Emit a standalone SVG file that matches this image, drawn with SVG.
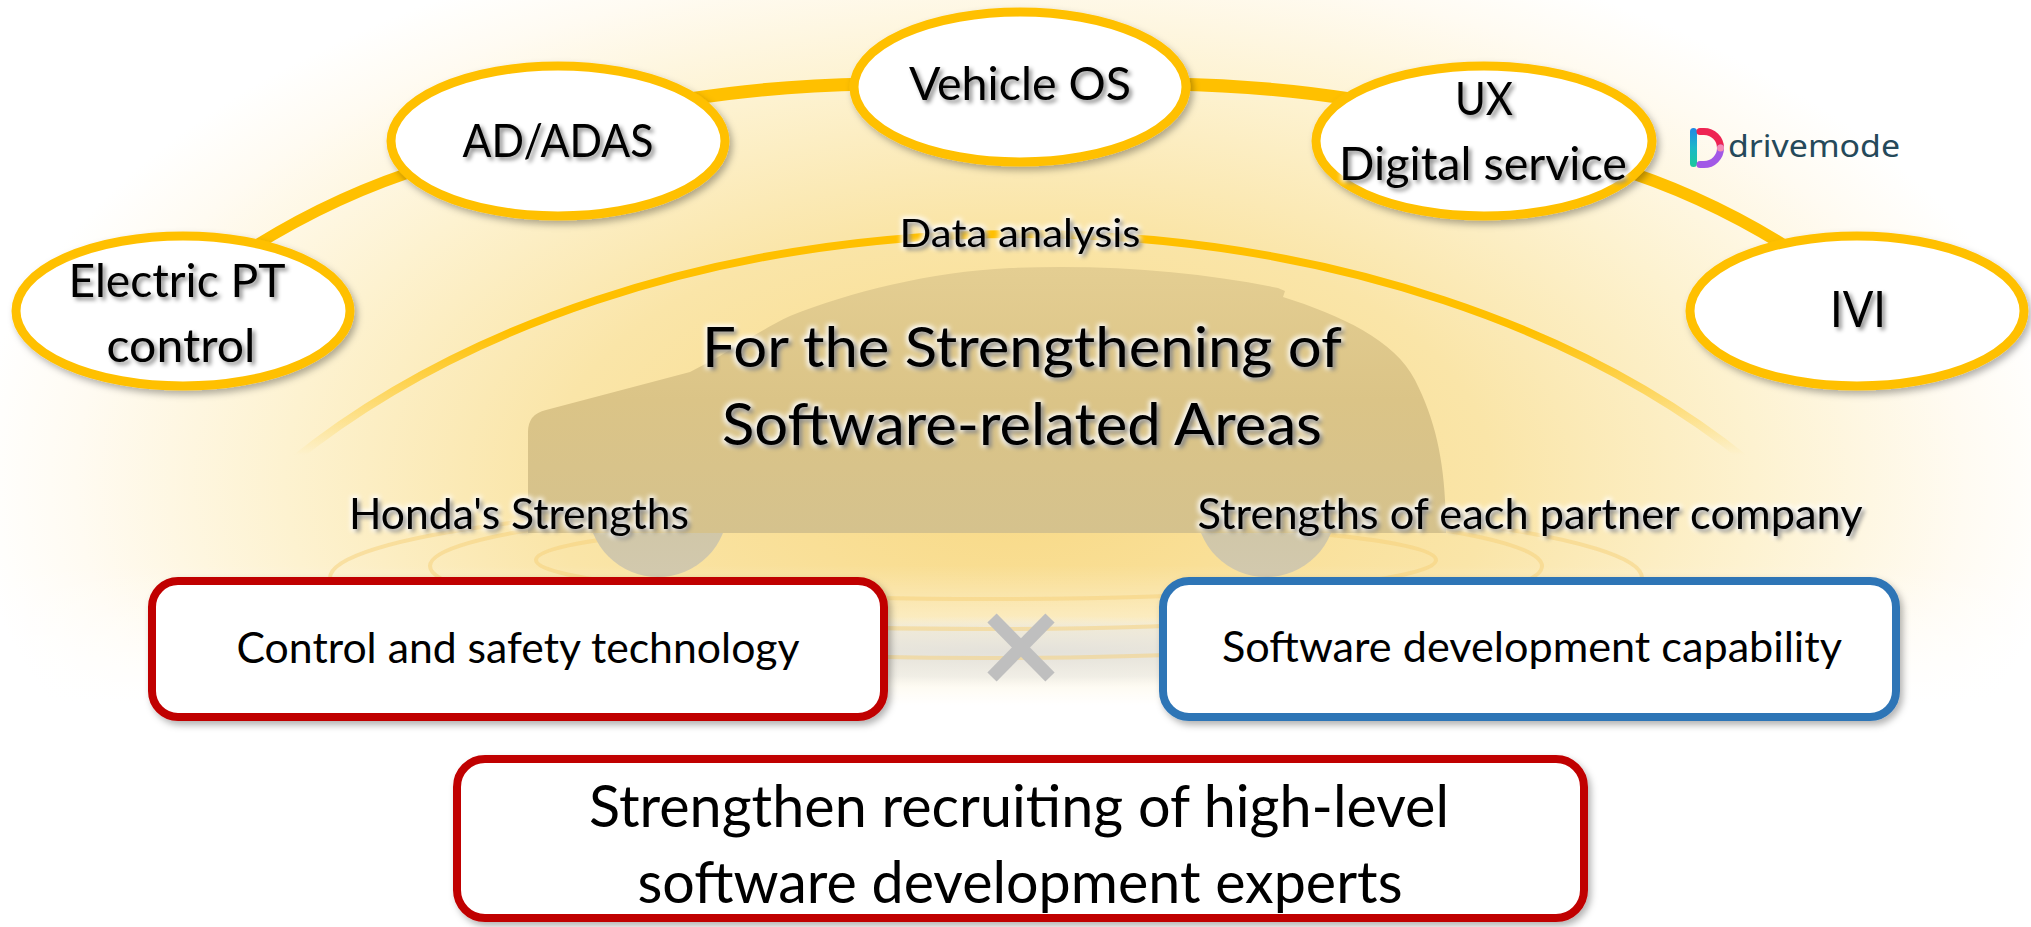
<svg xmlns="http://www.w3.org/2000/svg" width="2031" height="927" viewBox="0 0 2031 927">
  <defs>
    <style>
      .lbl { font-family: Lato, "Liberation Sans", "DejaVu Sans", sans-serif; fill: #000; text-anchor: middle; }
      .node-shape { fill: #fff; stroke: #FFC000; stroke-width: 9; }
      .link { fill: none; stroke: #FFC000; stroke-linecap: butt; }
      .ring { fill: none; stroke: #F6CF78; stroke-width: 4; stroke-opacity: 0.5; }
      .box { fill: #fff; stroke-width: 8; }
      .box-red { stroke: #C00000; }
      .box-blue { stroke: #2E75B6; }
    </style>

    <!-- warm background glow -->
    <radialGradient id="glow" gradientUnits="userSpaceOnUse" cx="1020" cy="480" r="1050"
                    gradientTransform="translate(1020 480) scale(1 0.55) translate(-1020 -480)">
      <stop offset="0" stop-color="#F8D985"/>
      <stop offset="0.45" stop-color="#FAE5A8"/>
      <stop offset="0.7" stop-color="#FDF2D0"/>
      <stop offset="0.9" stop-color="#FFFBF2"/>
      <stop offset="1" stop-color="#FFFFFF"/>
    </radialGradient>
    <linearGradient id="fadeOut" gradientUnits="userSpaceOnUse" x1="0" y1="565" x2="0" y2="705">
      <stop offset="0" stop-color="#fff" stop-opacity="0"/>
      <stop offset="1" stop-color="#fff" stop-opacity="1"/>
    </linearGradient>
    <radialGradient id="floor">
      <stop offset="0" stop-color="#E2E0DA" stop-opacity="0.95"/>
      <stop offset="0.7" stop-color="#E8E7E2" stop-opacity="0.6"/>
      <stop offset="1" stop-color="#F0EFEB" stop-opacity="0"/>
    </radialGradient>
    <linearGradient id="arcFade" gradientUnits="userSpaceOnUse" x1="0" y1="330" x2="0" y2="455">
      <stop offset="0" stop-color="#FFC000" stop-opacity="1"/>
      <stop offset="1" stop-color="#FFC000" stop-opacity="0"/>
    </linearGradient>
    <linearGradient id="carBody" x1="0" y1="0" x2="0" y2="1">
      <stop offset="0" stop-color="#E4CE92"/>
      <stop offset="0.5" stop-color="#DBC487"/>
      <stop offset="1" stop-color="#D5C28D"/>
    </linearGradient>
    <linearGradient id="wheel" x1="0" y1="0" x2="0" y2="1">
      <stop offset="0" stop-color="#CDC29C"/>
      <stop offset="1" stop-color="#D2C9AE"/>
    </linearGradient>
    <linearGradient id="dmBar" x1="0" y1="0" x2="0" y2="1">
      <stop offset="0" stop-color="#1E88E5"/>
      <stop offset="0.5" stop-color="#1CB8C8"/>
      <stop offset="1" stop-color="#1DC99C"/>
    </linearGradient>

    <filter id="shadow" x="-10%" y="-15%" width="125%" height="140%">
      <feDropShadow dx="3" dy="4" stdDeviation="3.5" flood-color="#000" flood-opacity="0.3"/>
    </filter>
    <filter id="tx" x="-5%" y="-35%" width="110%" height="180%" color-interpolation-filters="sRGB">
      <feMorphology in="SourceAlpha" operator="dilate" radius="2" result="d"/>
      <feGaussianBlur in="d" stdDeviation="2.5" result="db"/>
      <feFlood flood-color="#ffffff" result="w"/>
      <feComposite in="w" in2="db" operator="in" result="halo"/>
      <feGaussianBlur in="SourceAlpha" stdDeviation="2" result="b"/>
      <feOffset in="b" dx="2.5" dy="3" result="o"/>
      <feFlood flood-color="#000" flood-opacity="0.45"/>
      <feComposite in2="o" operator="in" result="sh"/>
      <feMerge>
        <feMergeNode in="halo"/>
        <feMergeNode in="sh"/>
        <feMergeNode in="SourceGraphic"/>
      </feMerge>
    </filter>
  </defs>

  <!-- backdrop -->
  <rect width="2031" height="927" fill="#fff"/>
  <rect width="2031" height="927" fill="url(#glow)"/>
  <rect x="0" y="565" width="2031" height="362" fill="url(#fadeOut)"/>
  <ellipse cx="1020" cy="652" rx="600" ry="36" fill="url(#floor)"/>

  <!-- ground rings under the car -->
  <g id="rings">
    <ellipse class="ring" cx="986" cy="578" rx="656" ry="80"/>
    <ellipse class="ring" cx="986" cy="566" rx="556" ry="63"/>
    <ellipse class="ring" cx="986" cy="560" rx="450" ry="39"/>
  </g>

  <!-- car silhouette -->
  <g id="car">
    <circle cx="658" cy="507" r="70" fill="url(#wheel)"/>
    <circle cx="1266" cy="507" r="70" fill="url(#wheel)"/>
    <path fill="url(#carBody)" d="M528,533 L528,432 Q528,414 546,410 L690,372 C730,352 760,330 790,316 C850,292 930,272 1010,268 C1110,264 1200,272 1278,288 L1285,291 L1283,297 C1340,315 1395,340 1415,380 C1438,425 1446,470 1446,533 Z"/>
  </g>

  <!-- inner arc -->
  <g id="data-analysis">
    <path d="M291,462 A935,610 0 0 1 1749,462" fill="none" stroke="url(#arcFade)" stroke-width="8"/>
    <text class="lbl" x="1020" y="247" font-size="39" textLength="241" lengthAdjust="spacingAndGlyphs" filter="url(#tx)">Data analysis</text>
  </g>

  <!-- outer ring links -->
  <g id="connectors">
    <path class="link" stroke-width="11" d="M230,262 Q325,198 430,166"/>
    <path class="link" stroke-width="13" d="M690,99 Q770,86 870,84"/>
    <path class="link" stroke-width="13" d="M1170,84 Q1270,86 1350,99"/>
    <path class="link" stroke-width="12" d="M1610,166 Q1715,198 1810,262"/>
  </g>

  <g id="node-electric-pt">
    <ellipse class="node-shape" cx="183" cy="311" rx="167" ry="75" filter="url(#shadow)"/>
    <text class="lbl" x="177" y="297" font-size="47" textLength="217" lengthAdjust="spacingAndGlyphs" filter="url(#tx)">Electric PT</text>
    <text class="lbl" x="181" y="362" font-size="47" textLength="149" lengthAdjust="spacingAndGlyphs" filter="url(#tx)">control</text>
  </g>

  <g id="node-ad-adas">
    <ellipse class="node-shape" cx="558" cy="141" rx="167" ry="75" filter="url(#shadow)"/>
    <text class="lbl" x="558" y="157" font-size="46" textLength="191" lengthAdjust="spacingAndGlyphs" filter="url(#tx)">AD/ADAS</text>
  </g>

  <g id="node-vehicle-os">
    <ellipse class="node-shape" cx="1020" cy="87" rx="166" ry="75" filter="url(#shadow)"/>
    <text class="lbl" x="1020" y="100" font-size="46" textLength="222" lengthAdjust="spacingAndGlyphs" filter="url(#tx)">Vehicle OS</text>
  </g>

  <g id="node-ux">
    <ellipse class="node-shape" cx="1484" cy="141" rx="168" ry="75" filter="url(#shadow)"/>
    <text class="lbl" x="1484" y="115" font-size="46" textLength="58" lengthAdjust="spacingAndGlyphs" filter="url(#tx)">UX</text>
    <text class="lbl" x="1483" y="180" font-size="47" textLength="288" lengthAdjust="spacingAndGlyphs" filter="url(#tx)">Digital service</text>
  </g>

  <g id="node-ivi">
    <ellipse class="node-shape" cx="1857" cy="311" rx="167" ry="75" filter="url(#shadow)"/>
    <text class="lbl" x="1858" y="327" font-size="51" textLength="56" lengthAdjust="spacingAndGlyphs" filter="url(#tx)">IVI</text>
  </g>

  <!-- drivemode mark -->
  <g id="drivemode-logo">
    <rect x="1690" y="128" width="7" height="39" rx="3.5" fill="url(#dmBar)"/>
    <path d="M1700,131.5 L1704,131.5 A16.5,16.5 0 0 1 1720.5,148" fill="none" stroke="#EE2452" stroke-width="7" stroke-linecap="round"/>
    <path d="M1720.5,148 A16.5,16.5 0 0 1 1704,164.5 L1700,164.5" fill="none" stroke="#A259E6" stroke-width="7" stroke-linecap="round"/>
    <circle cx="1720.5" cy="148" r="3.5" fill="#F58CB5"/>
    <text x="1728" y="157" font-family="'Noto Sans', Lato, sans-serif" font-size="30" fill="#25495A" textLength="172" lengthAdjust="spacingAndGlyphs">drivemode</text>
  </g>

  <g id="title">
    <text class="lbl" x="1022" y="367" font-size="57" textLength="640" lengthAdjust="spacingAndGlyphs" filter="url(#tx)">For the Strengthening of</text>
    <text class="lbl" x="1022" y="445" font-size="58" textLength="600" lengthAdjust="spacingAndGlyphs" filter="url(#tx)">Software-related Areas</text>
  </g>

  <g id="caption-honda">
    <text class="lbl" x="519" y="529" font-size="42" textLength="340" lengthAdjust="spacingAndGlyphs" filter="url(#tx)">Honda's Strengths</text>
  </g>
  <g id="caption-partners">
    <text class="lbl" x="1530" y="529" font-size="42" textLength="665" lengthAdjust="spacingAndGlyphs" filter="url(#tx)">Strengths of each partner company</text>
  </g>

  <g id="box-control-safety">
    <rect class="box box-red" x="152" y="581" width="732" height="136" rx="26" filter="url(#shadow)"/>
    <text class="lbl" x="518" y="663" font-size="43" textLength="563" lengthAdjust="spacingAndGlyphs">Control and safety technology</text>
  </g>

  <g id="times-sign" stroke="#BFBFBF" stroke-width="13">
    <line x1="992" y1="618" x2="1050" y2="677"/>
    <line x1="1050" y1="618" x2="992" y2="677"/>
  </g>

  <g id="box-software-dev">
    <rect class="box box-blue" x="1163" y="581" width="733" height="136" rx="26" filter="url(#shadow)"/>
    <text class="lbl" x="1532" y="662" font-size="43" textLength="620" lengthAdjust="spacingAndGlyphs">Software development capability</text>
  </g>

  <g id="box-recruiting">
    <rect class="box box-red" x="457" y="759" width="1127" height="159" rx="28" filter="url(#shadow)"/>
    <text class="lbl" x="1019" y="827" font-size="58" textLength="860" lengthAdjust="spacingAndGlyphs">Strengthen recruiting of high-level</text>
    <text class="lbl" x="1020" y="903" font-size="58" textLength="765" lengthAdjust="spacingAndGlyphs">software development experts</text>
  </g>
</svg>
